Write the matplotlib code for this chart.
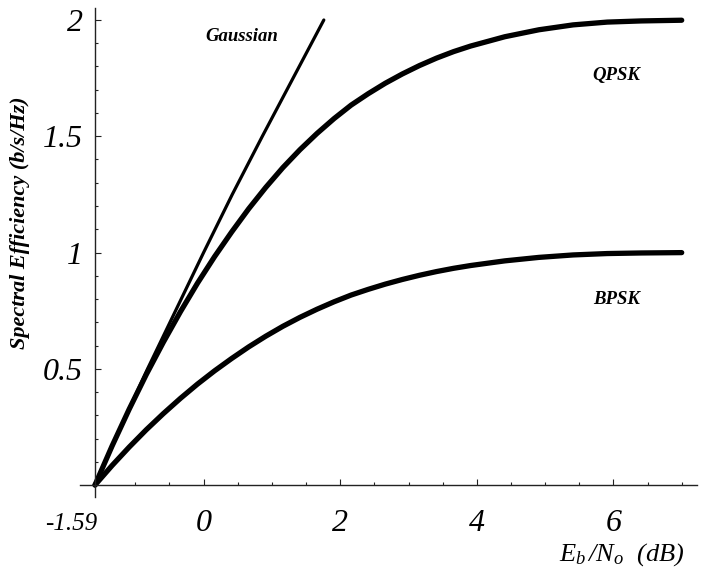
import matplotlib
matplotlib.use("Agg")
import matplotlib.pyplot as plt
from matplotlib.ticker import FixedLocator, NullFormatter

# =====================================================
# DATA
# =====================================================
# Eb/N0 in dB vs spectral efficiency in b/s/Hz
gauss_ebno = [-1.59, -1.21, -0.82, -0.41, 0.00, 0.42, 0.86, 1.31, 1.76]
gauss_eff = [0.0, 0.25, 0.5, 0.75, 1.0, 1.25, 1.5, 1.75, 2.0]

psk_ebno = [-1.59, -1.34, -1.09, -0.84, -0.59, -0.34, -0.09, 0.16, 0.41,
            0.66, 0.91, 1.16, 1.41, 1.66, 1.91, 2.16, 2.41, 2.66, 2.91,
            3.16, 3.41, 3.66, 3.91, 4.41, 4.91, 5.41, 5.91, 6.41, 7.00]
bpsk_eff = [0.0, 0.084, 0.163, 0.2375, 0.307, 0.3725, 0.434, 0.491, 0.544,
            0.594, 0.640, 0.6825, 0.721, 0.756, 0.788, 0.817, 0.8415, 0.864, 0.884,
            0.902, 0.918, 0.932, 0.944, 0.964, 0.979, 0.9895, 0.9955, 0.998, 0.9995]
qpsk_eff = [0.0, 0.168, 0.326, 0.475, 0.614, 0.745, 0.868, 0.982, 1.088,
            1.188, 1.280, 1.365, 1.442, 1.512, 1.576, 1.634, 1.683, 1.728, 1.768,
            1.804, 1.836, 1.864, 1.888, 1.928, 1.958, 1.979, 1.991, 1.996, 1.999]

x_major = [0, 2, 4, 6]
x_major_labels = ["0", "2", "4", "6"]
x_minor = [-1.0, -0.5, 0.5, 1.0, 1.5, 2.5, 3.0, 3.5, 4.5, 5.0, 5.5, 6.5, 7.0]
y_major = [0.5, 1.0, 1.5, 2.0]
y_major_labels = ["0.5", "1", "1.5", "2"]
y_minor = [0.1, 0.2, 0.3, 0.4, 0.6, 0.7, 0.8, 0.9,
           1.1, 1.2, 1.3, 1.4, 1.6, 1.7, 1.8, 1.9]

ORIGIN_X = -1.59

# =====================================================
# FIGURE
# =====================================================
plt.rcParams["mathtext.fontset"] = "custom"
plt.rcParams["mathtext.it"] = "Liberation Serif:italic"
plt.rcParams["mathtext.rm"] = "Liberation Serif:italic"

W, H = 713, 569
fig = plt.figure(figsize=(W / 100, H / 100), dpi=100)
ax = fig.add_axes([80 / W, 1 - 497 / H, (697 - 80) / W, (497 - 8) / H])

ax.set_xlim(-1.81, 7.224)
ax.set_ylim(-0.0516, 2.0516)

line_kw = dict(color="black", solid_capstyle="round", solid_joinstyle="round")
ax.plot(gauss_ebno, gauss_eff, lw=2.3, **line_kw)
ax.plot(psk_ebno, qpsk_eff, lw=3.8, **line_kw)
ax.plot(psk_ebno, bpsk_eff, lw=3.8, **line_kw)

# axes crossing at (-1.59, 0)
for side in ["top", "right"]:
    ax.spines[side].set_visible(False)
ax.spines["left"].set_position(("data", ORIGIN_X))
ax.spines["bottom"].set_position(("data", 0))
for side in ["left", "bottom"]:
    ax.spines[side].set_linewidth(1.0)
    ax.spines[side].set_color("#222222")

ax.xaxis.set_major_locator(FixedLocator(x_major))
ax.xaxis.set_minor_locator(FixedLocator(x_minor))
ax.set_xticklabels(x_major_labels)
ax.yaxis.set_major_locator(FixedLocator(y_major))
ax.yaxis.set_minor_locator(FixedLocator(y_minor))
ax.set_yticklabels(y_major_labels)
ax.xaxis.set_minor_formatter(NullFormatter())
ax.yaxis.set_minor_formatter(NullFormatter())

ax.tick_params(which="both", direction="in", color="#222222", width=0.8)
ax.tick_params(which="major", length=4.5)
ax.tick_params(which="minor", length=2.5)
ax.tick_params(axis="x", pad=17)
ax.tick_params(axis="y", pad=9)
for lab in ax.get_xticklabels() + ax.get_yticklabels():
    lab.set_fontfamily("Liberation Serif")
    lab.set_fontstyle("italic")
    lab.set_fontsize(23)

# origin label
ax.annotate("-1.59", xy=(ORIGIN_X, 0), xytext=(2, -39), textcoords="offset pixels",
            ha="right", va="center", fontfamily="Liberation Serif",
            fontstyle="italic", fontsize=18)

# curve labels
label_font = dict(fontfamily="Liberation Serif", fontstyle="italic",
                  fontweight="bold", fontsize=13.5, ha="center", va="center")
ax.text(0.56, 1.93, "Gaussian", **label_font)
ax.text(6.04, 1.76, "QPSK", **label_font)
ax.text(6.04, 0.80, "BPSK", **label_font)

# axis titles
fig.text(20 / W, 1 - 223 / H, "Spectral Efficiency (b/s/Hz)", rotation=90,
         ha="center", va="center", fontfamily="Liberation Serif",
         fontstyle="italic", fontweight="bold", fontsize=16)
fig.text(622 / W, 1 - 555 / H, r"$E_b\,/N_o$  (dB)", ha="center", va="center",
         fontfamily="Liberation Serif", fontstyle="italic", fontsize=19)

fig.savefig("out.png", dpi=100)
